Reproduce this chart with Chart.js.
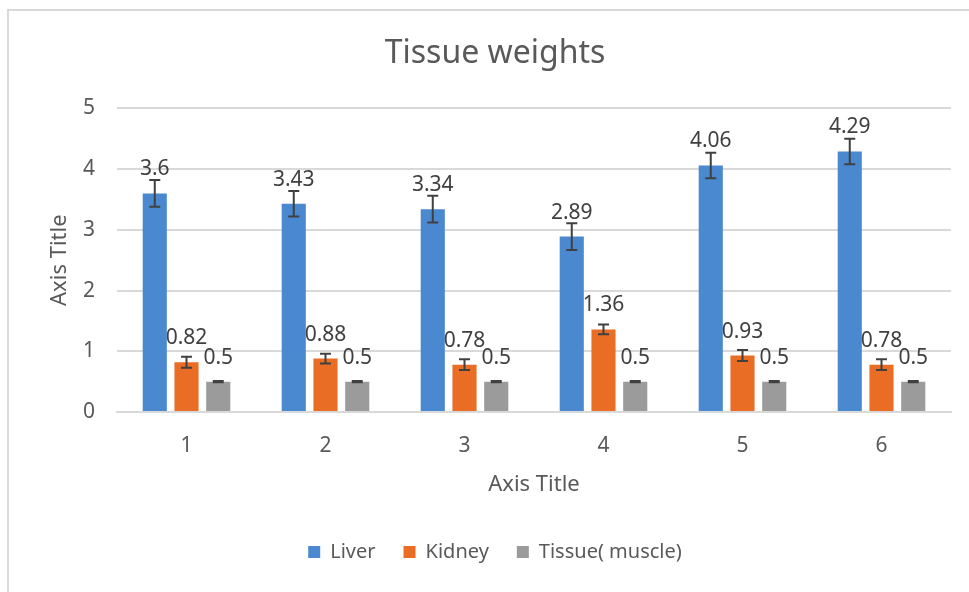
<!DOCTYPE html>
<html>
<head>
<meta charset="utf-8">
<script src="https://cdn.jsdelivr.net/npm/chart.js@4.4.1/dist/chart.umd.min.js"></script>
<style>
  html, body { margin: 0; padding: 0; background: #fff; }
  #wrap { width: 969px; height: 592px; position: relative; }
</style>
</head>
<body>
<div id="wrap"><canvas id="chart_tissueWeights"></canvas></div>
<script>
const categories = ['1', '2', '3', '4', '5', '6'];
const liver = [3.6, 3.43, 3.34, 2.89, 4.06, 4.29];
const kidney = [0.82, 0.88, 0.78, 1.36, 0.93, 0.78];
const muscle = [0.5, 0.5, 0.5, 0.5, 0.5, 0.5];
// error bar half-heights
const liverErr = [0.22, 0.21, 0.22, 0.22, 0.21, 0.21];
const kidneyErr = [0.09, 0.08, 0.09, 0.08, 0.09, 0.09];
const muscleErr = [0.01, 0.01, 0.01, 0.01, 0.01, 0.01];

const fontFamily = "'Noto Sans', 'Open Sans', sans-serif";

// frame round the chart, like the Excel chart area border
const framePlugin = {
    id: 'frame',
    beforeDraw(chart) {
        const ctx = chart.ctx;
        ctx.save();
        ctx.fillStyle = '#ffffff';
        ctx.fillRect(0, 0, chart.width, chart.height);
        ctx.strokeStyle = '#d9d9d9';
        ctx.lineWidth = 2;
        ctx.strokeRect(8, 10, 1200, 1200);
        ctx.restore();
    }
};

// error bars + value labels
const barExtrasPlugin = {
    id: 'barExtras',
    afterDatasetsDraw(chart) {
        const ctx = chart.ctx;
        const y = chart.scales.y;
        ctx.save();
        chart.data.datasets.forEach(function (ds, i) {
            const meta = chart.getDatasetMeta(i);
            meta.data.forEach(function (bar, j) {
                const v = ds.data[j];
                const e = ds.errors[j];
                const yTop = y.getPixelForValue(v + e);
                const yBot = y.getPixelForValue(v - e);
                ctx.strokeStyle = '#404040';
                ctx.lineWidth = 2;
                ctx.beginPath();
                ctx.moveTo(bar.x, yTop);
                ctx.lineTo(bar.x, yBot);
                ctx.moveTo(bar.x - 5.5, yTop);
                ctx.lineTo(bar.x + 5.5, yTop);
                ctx.moveTo(bar.x - 5.5, yBot);
                ctx.lineTo(bar.x + 5.5, yBot);
                ctx.stroke();

                ctx.fillStyle = '#404040';
                ctx.font = '21px ' + fontFamily;
                ctx.textAlign = 'center';
                ctx.textBaseline = 'middle';
                ctx.fillText(String(v), bar.x, bar.y - 24);
            });
        });
        ctx.restore();
    }
};

const data = {
    labels: categories,
    datasets: [
        { label: 'Liver', data: liver, errors: liverErr, backgroundColor: '#4a89cf' },
        { label: 'Kidney', data: kidney, errors: kidneyErr, backgroundColor: '#ea6d25' },
        { label: 'Tissue( muscle)', data: muscle, errors: muscleErr, backgroundColor: '#9b9b9b' }
    ]
};

const config = {
    type: 'bar',
    data: data,
    options: {
        responsive: false,
        animation: false,
        devicePixelRatio: 1,
        categoryPercentage: 0.685,
        barPercentage: 0.76,
        layout: { padding: { left: 39, right: 18, top: 0, bottom: 20 } },
        plugins: {
            title: {
                display: true,
                text: 'Tissue weights',
                color: '#595959',
                font: { family: fontFamily, size: 32, weight: 'normal' },
                padding: { top: 35, bottom: 35 }
            },
            legend: {
                position: 'bottom',
                labels: {
                    color: '#595959',
                    font: { family: fontFamily, size: 20 },
                    boxWidth: 12,
                    boxHeight: 12,
                    padding: 28
                }
            },
            tooltip: { enabled: false }
        },
        scales: {
            x: {
                grid: { display: false, drawTicks: false },
                border: { display: true, color: '#d9d9d9', width: 2 },
                ticks: {
                    color: '#595959',
                    font: { family: fontFamily, size: 21 },
                    padding: 21
                },
                title: {
                    display: true,
                    text: 'Axis Title',
                    color: '#595959',
                    font: { family: fontFamily, size: 22 },
                    padding: { top: 0, bottom: 16 }
                },
                afterFit(scale) { scale.height = 102; }
            },
            y: {
                min: 0,
                max: 5,
                grid: { color: '#d9d9d9', lineWidth: 2, drawTicks: false },
                border: { display: false },
                ticks: {
                    stepSize: 1,
                    color: '#595959',
                    font: { family: fontFamily, size: 21 },
                    padding: 22
                },
                title: {
                    display: true,
                    text: 'Axis Title',
                    color: '#595959',
                    font: { family: fontFamily, size: 22 },
                    padding: { top: 8, bottom: 0 }
                },
                afterFit(scale) { scale.width = 78; }
            }
        }
    },
    plugins: [framePlugin, barExtrasPlugin]
};

const canvas = document.getElementById('chart_tissueWeights');
canvas.width = 969;
canvas.height = 592;
const myChart = new Chart(canvas, config);
</script>
</body>
</html>
